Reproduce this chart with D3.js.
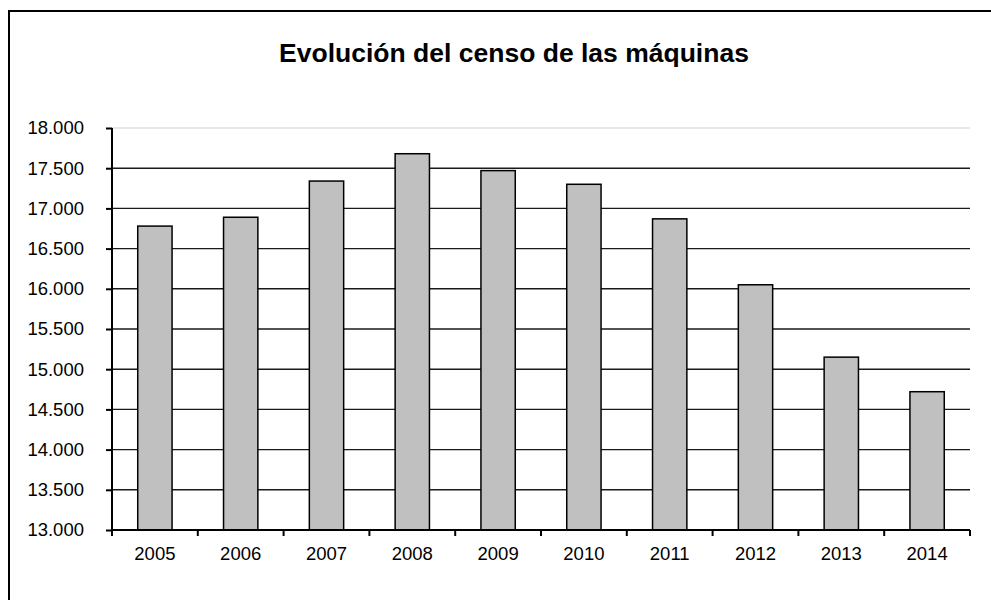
<!DOCTYPE html>
<html>
<head>
<meta charset="utf-8">
<script src="https://cdn.jsdelivr.net/npm/d3@7"></script>
<style>
  body { margin: 0; background: #fff; }
  text { font-family: "Liberation Sans", Arial, sans-serif; fill: #000; }
</style>
</head>
<body>
<div id="chart"></div>
<script>
// data
const years = ["2005", "2006", "2007", "2008", "2009", "2010", "2011", "2012", "2013", "2014"];
const censo = [16780, 16890, 17340, 17680, 17470, 17300, 16870, 16050, 15150, 14720];
const yTicks = [13000, 13500, 14000, 14500, 15000, 15500, 16000, 16500, 17000, 17500, 18000];
const chartTitle = "Evolución del censo de las máquinas";

const width = 991, height = 600;
const plotLeft = 112, plotRight = 970, plotTop = 128, plotBottom = 530;

const svg = d3.select("#chart")
    .append("svg")
    .attr("width", width)
    .attr("height", height);

// outer frame (runs past the right and bottom edges)
svg.append("rect")
    .attr("x", 9)
    .attr("y", 11)
    .attr("width", 1000)
    .attr("height", 620)
    .attr("fill", "none")
    .attr("stroke", "#000")
    .attr("stroke-width", 2);

svg.append("text")
    .attr("x", 514)
    .attr("y", 62)
    .attr("text-anchor", "middle")
    .attr("font-weight", "bold")
    .attr("font-size", 26.5)
    .text(chartTitle);

const x = d3.scaleBand()
    .domain(years)
    .range([plotLeft, plotRight])
    .paddingInner(0.6)
    .paddingOuter(0.3);

const y = d3.scaleLinear()
    .domain([13000, 18000])
    .range([plotBottom, plotTop]);

const fmt = d => d3.format(",")(d).replace(/,/g, ".");

// gridlines
svg.append("g")
    .selectAll("line")
    .data(yTicks.filter(d => d > 13000))
    .enter().append("line")
    .attr("x1", plotLeft)
    .attr("x2", plotRight)
    .attr("y1", d => y(d))
    .attr("y2", d => y(d))
    .attr("stroke", d => d === 18000 ? "#e0e0e0" : "#1a1a1a")
    .attr("stroke-width", 1.4);

// bars
svg.append("g")
    .selectAll("rect")
    .data(censo)
    .enter().append("rect")
    .attr("x", (d, i) => x(years[i]))
    .attr("y", d => y(d))
    .attr("width", x.bandwidth())
    .attr("height", d => y(13000) - y(d))
    .attr("fill", "#c0c0c0")
    .attr("stroke", "#000")
    .attr("stroke-width", 1.5);

// y axis
const yAxis = svg.append("g")
    .attr("transform", `translate(${plotLeft},0)`)
    .call(d3.axisLeft(y).tickValues(yTicks).tickFormat(fmt).tickSize(6).tickPadding(22));
yAxis.selectAll("path, line").attr("stroke", "#000").attr("stroke-width", 2);
yAxis.select(".domain").attr("d", `M0,${plotTop}V${plotBottom}`);
yAxis.selectAll("text")
    .attr("font-size", 18.5)
    .style("font-family", "Liberation Sans, Arial, sans-serif");

// x axis with ticks between categories
const xAxis = svg.append("g")
    .attr("transform", `translate(0,${plotBottom})`)
    .call(d3.axisBottom(x).tickSize(0).tickPadding(17));
xAxis.select(".domain").attr("d", `M${plotLeft},0H${plotRight}`).attr("stroke", "#000").attr("stroke-width", 2);
xAxis.selectAll("text")
    .attr("font-size", 18.5)
    .style("font-family", "Liberation Sans, Arial, sans-serif");

const step = x.step();
xAxis.selectAll(".sep")
    .data(d3.range(years.length + 1))
    .enter().append("line")
    .attr("class", "sep")
    .attr("x1", i => plotLeft + i * step)
    .attr("x2", i => plotLeft + i * step)
    .attr("y1", 0)
    .attr("y2", 6)
    .attr("stroke", "#000")
    .attr("stroke-width", 2);
</script>
</body>
</html>
